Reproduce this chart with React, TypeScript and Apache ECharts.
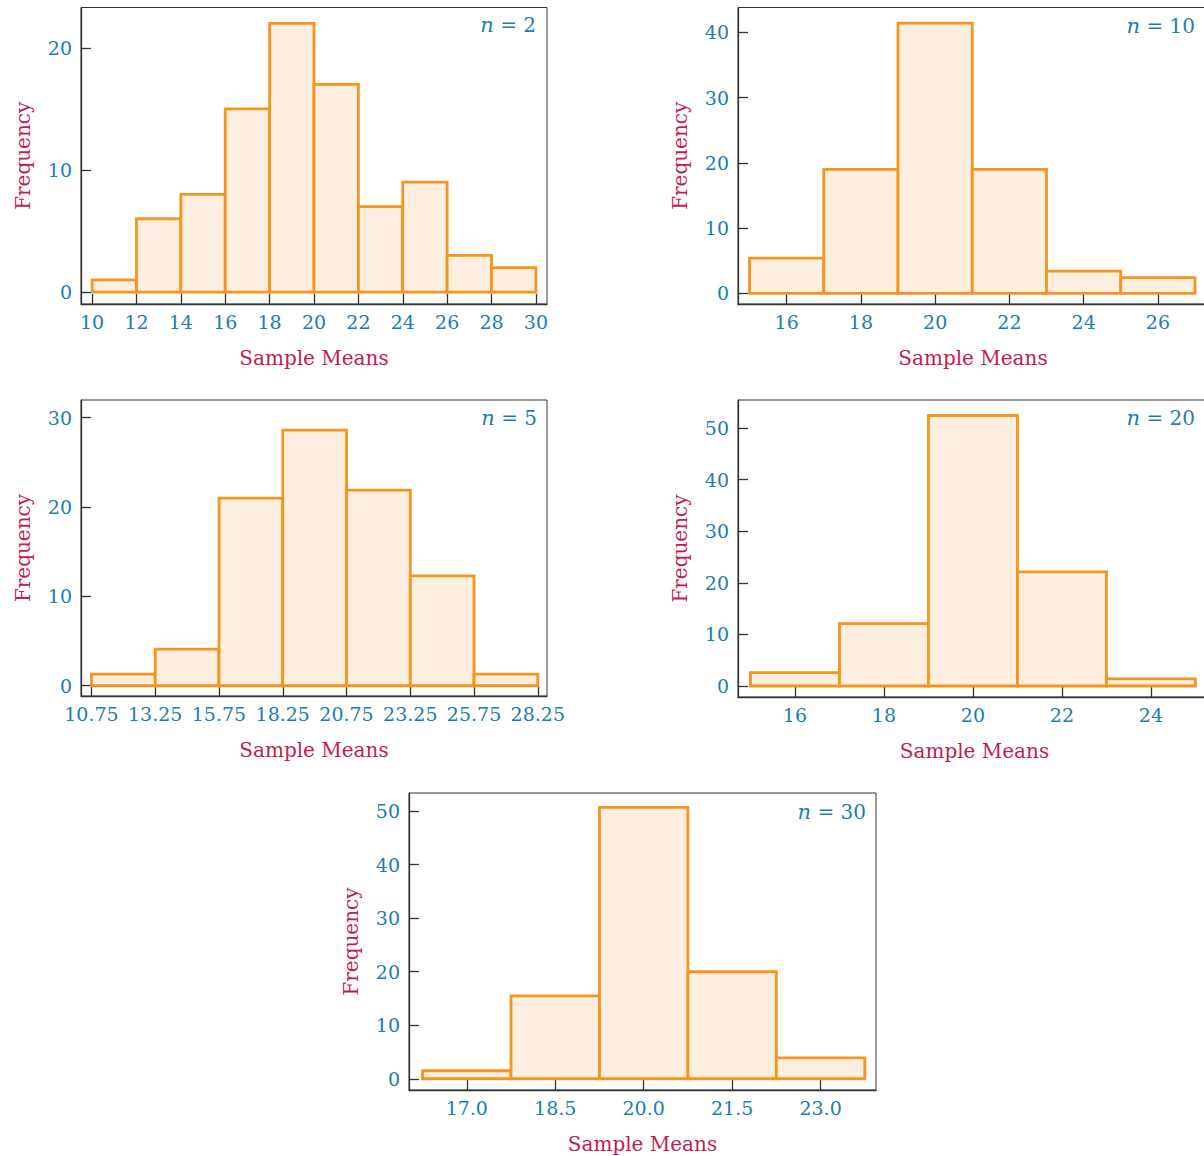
import React, { useEffect, useRef } from "react";
import * as echarts from "echarts";

// ---- data ----
const n2Edges = [10, 12, 14, 16, 18, 20, 22, 24, 26, 28, 30];
const n2Freq = [1, 6, 8, 15, 22, 17, 7, 9, 3, 2];
const n2XTicks = [10, 12, 14, 16, 18, 20, 22, 24, 26, 28, 30];
const n2YTicks = [0, 10, 20];

const n10Edges = [15, 17, 19, 21, 23, 25, 27];
const n10Freq = [5.4, 19, 41.4, 19, 3.4, 2.4];
const n10XTicks = [16, 18, 20, 22, 24, 26];
const n10YTicks = [0, 10, 20, 30, 40];

const n5Edges = [10.75, 13.25, 15.75, 18.25, 20.75, 23.25, 25.75, 28.25];
const n5Freq = [1.3, 4.1, 21, 28.6, 21.9, 12.3, 1.3];
const n5XTicks = [10.75, 13.25, 15.75, 18.25, 20.75, 23.25, 25.75, 28.25];
const n5YTicks = [0, 10, 20, 30];

const n20Edges = [15, 17, 19, 21, 23, 25];
const n20Freq = [2.6, 12.1, 52.4, 22.1, 1.4];
const n20XTicks = [16, 18, 20, 22, 24];
const n20YTicks = [0, 10, 20, 30, 40, 50];

const n30Edges = [16.25, 17.75, 19.25, 20.75, 22.25, 23.75];
const n30Freq = [1.5, 15.5, 50.7, 20, 3.9];
const n30XTicks = [17, 18.5, 20, 21.5, 23];
const n30YTicks = [0, 10, 20, 30, 40, 50];

const sampleSizes = ["2", "10", "5", "20", "30"];
const xAxisTitle = "Sample Means";
const yAxisTitle = "Frequency";

// ---- style ----
const BLUE = "#1b7db2";
const CRIMSON = "#c41c4e";
const ORANGE = "#f7941d";
const FILL = "#fdefdf";
const AXIS = "#333333";
const FONT = "DejaVu Serif";

const panels = [
  { n: sampleSizes[0], edges: n2Edges, freq: n2Freq, xTicks: n2XTicks, yTicks: n2YTicks, dec: 0,
    grid: { left: 81, top: 7.5, width: 466, height: 296.5 }, xMin: 9.5, xMax: 30.5, yMin: -0.98, yMax: 23.3,
    labelX: 536, labelY: 25 },
  { n: sampleSizes[1], edges: n10Edges, freq: n10Freq, xTicks: n10XTicks, yTicks: n10YTicks, dec: 0,
    grid: { left: 738, top: 7.5, width: 470, height: 296.5 }, xMin: 14.69, xMax: 27.35, yMin: -1.64, yMax: 43.8,
    labelX: 1195, labelY: 26 },
  { n: sampleSizes[2], edges: n5Edges, freq: n5Freq, xTicks: n5XTicks, yTicks: n5YTicks, dec: 2,
    grid: { left: 81, top: 400, width: 466, height: 296 }, xMin: 10.34, xMax: 28.61, yMin: -1.15, yMax: 31.98,
    labelX: 537, labelY: 418 },
  { n: sampleSizes[3], edges: n20Edges, freq: n20Freq, xTicks: n20XTicks, yTicks: n20YTicks, dec: 0,
    grid: { left: 738, top: 400, width: 473, height: 297 }, xMin: 14.72, xMax: 25.35, yMin: -2.13, yMax: 55.4,
    labelX: 1195, labelY: 418 },
  { n: sampleSizes[4], edges: n30Edges, freq: n30Freq, xTicks: n30XTicks, yTicks: n30YTicks, dec: 1,
    grid: { left: 409, top: 793, width: 467, height: 297 }, xMin: 16.02, xMax: 23.94, yMin: -2.1, yMax: 53.4,
    labelX: 866, labelY: 812 },
];

function buildOption() {
  const grid: any[] = [];
  const xAxis: any[] = [];
  const yAxis: any[] = [];
  const series: any[] = [];
  const graphic: any[] = [];

  panels.forEach((p, i) => {
    grid.push({
      ...p.grid,
      show: true,
      borderColor: AXIS,
      borderWidth: 1,
      backgroundColor: "transparent",
      outerBoundsMode: "none",
    });
    xAxis.push({
      type: "value",
      gridIndex: i,
      min: p.xMin,
      max: p.xMax,
      axisLine: { show: true, onZero: false, lineStyle: { color: AXIS, width: 1.3 } },
      axisTick: {
        show: true,
        inside: true,
        length: 10,
        customValues: p.xTicks,
        lineStyle: { color: AXIS, width: 1.3 },
      },
      axisLabel: {
        show: true,
        customValues: p.xTicks,
        formatter: (v: number) => v.toFixed(p.dec),
        color: BLUE,
        fontFamily: FONT,
        fontSize: 19,
        margin: 8,
      },
      splitLine: { show: false },
      name: xAxisTitle,
      nameLocation: "middle",
      nameGap: 44,
      nameTextStyle: { color: CRIMSON, fontFamily: FONT, fontSize: 20 },
    });
    yAxis.push({
      type: "value",
      gridIndex: i,
      min: p.yMin,
      max: p.yMax,
      axisLine: { show: true, onZero: false, lineStyle: { color: AXIS, width: 1.3 } },
      axisTick: {
        show: true,
        inside: true,
        length: 10,
        customValues: p.yTicks,
        lineStyle: { color: AXIS, width: 1.3 },
      },
      axisLabel: {
        show: true,
        customValues: p.yTicks,
        color: BLUE,
        fontFamily: FONT,
        fontSize: 19,
        margin: 9,
      },
      splitLine: { show: false },
      name: yAxisTitle,
      nameLocation: "middle",
      nameGap: 48,
      nameTextStyle: { color: CRIMSON, fontFamily: FONT, fontSize: 20 },
    });
    const data = p.freq.map((f, k) => [p.edges[k], p.edges[k + 1], f]);
    series.push({
      type: "custom",
      xAxisIndex: i,
      yAxisIndex: i,
      data,
      clip: false,
      renderItem: (params: any, api: any) => {
        const x0 = api.value(0);
        const x1 = api.value(1);
        const y = api.value(2);
        const p0 = api.coord([x0, y]);
        const p1 = api.coord([x1, 0]);
        return {
          type: "rect",
          shape: { x: p0[0], y: p0[1], width: p1[0] - p0[0], height: p1[1] - p0[1] },
          style: { fill: FILL, stroke: ORANGE, lineWidth: 2.8 },
        };
      },
    });
    graphic.push({
      type: "text",
      x: p.labelX,
      y: p.labelY,
      style: {
        text: "{i|n} = " + p.n,
        fill: BLUE,
        fontFamily: FONT,
        fontSize: 20,
        align: "right",
        verticalAlign: "middle",
        rich: {
          i: { fontStyle: "italic", fontFamily: FONT, fontSize: 21, fill: BLUE },
        },
      },
    });
  });

  return { animation: false, grid, xAxis, yAxis, series, graphic };
}

export default function App() {
  const ref = useRef<HTMLDivElement>(null);
  useEffect(() => {
    if (!ref.current) return;
    const chart = echarts.init(ref.current, null, { renderer: "svg" });
    chart.setOption(buildOption() as any);
    return () => chart.dispose();
  }, []);
  return (
    <div
      ref={ref}
      style={{ position: "absolute", left: 0, top: 0, width: 1204, height: 1156, background: "#ffffff" }}
    />
  );
}
